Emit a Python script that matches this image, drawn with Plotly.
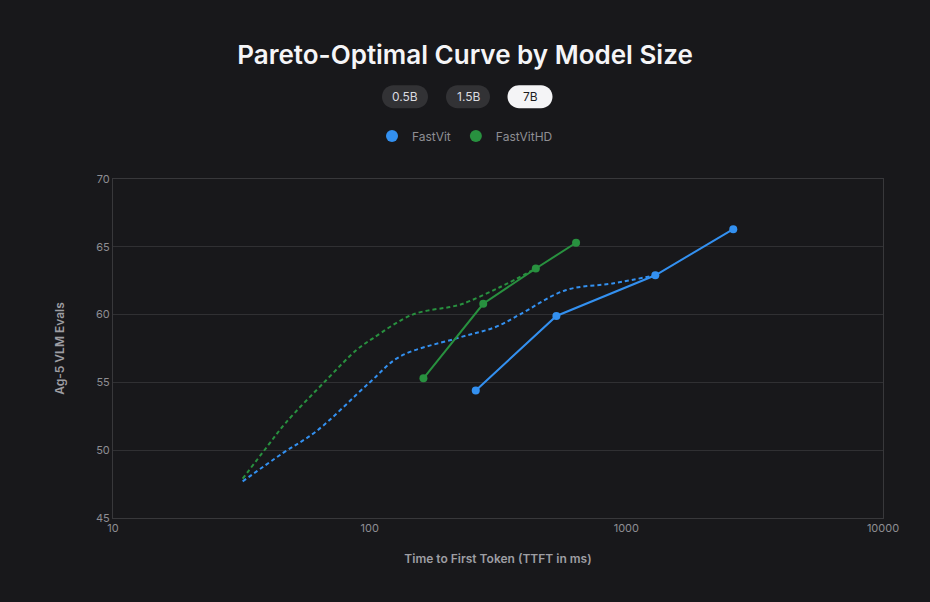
import plotly.graph_objects as go

# solid frontier points (7B)
fastvit_ttft = [259, 534, 1297, 2610]
fastvit_score = [54.4, 59.9, 62.9, 66.3]
fastvithd_ttft = [162, 277, 444, 637]
fastvithd_score = [55.3, 60.8, 63.4, 65.3]

# dashed reference curves
fastvit_ref_ttft = [32, 46, 62, 100, 131, 218, 311, 384, 580, 884, 1297]
fastvit_ref_score = [47.7, 49.8, 51.4, 55.0, 56.9, 58.25, 59.1, 60.0, 61.8, 62.3, 62.9]
fastvithd_ref_ttft = [32, 40, 47, 68, 89, 103, 147, 211, 231, 320, 444]
fastvithd_ref_score = [47.9, 50.3, 52.0, 55.2, 57.4, 58.25, 60.0, 60.6, 60.8, 62.0, 63.4]

sizes = ["0.5B", "1.5B", "7B"]
active_size = "7B"

BLUE = "#3390f0"
GREEN = "#28913f"
BG = "#18181b"
W, H = 930, 602
L, R, T, B = 113, 47, 179, 84


def to_paper(px, py):
    return (px - L) / (W - L - R), (H - B - py) / (H - T - B)


def pill(cx, cy, w, h):
    r = h / 2
    k = 0.5523 * r
    x0, x1 = cx - w / 2, cx + w / 2
    y0, y1 = cy - h / 2, cy + h / 2
    pts = [
        ("M", [(x0 + r, y0)]),
        ("L", [(x1 - r, y0)]),
        ("C", [(x1 - r + k, y0), (x1, cy - k), (x1, cy)]),
        ("C", [(x1, cy + k), (x1 - r + k, y1), (x1 - r, y1)]),
        ("L", [(x0 + r, y1)]),
        ("C", [(x0 + r - k, y1), (x0, cy + k), (x0, cy)]),
        ("C", [(x0, cy - k), (x0 + r - k, y0), (x0 + r, y0)]),
    ]
    s = ""
    for cmd, ps in pts:
        s += cmd + " ".join("%.5f,%.5f" % to_paper(*p) for p in ps) + " "
    return s + "Z"


fig = go.Figure()

fig.add_trace(go.Scatter(x=fastvit_ref_ttft, y=fastvit_ref_score, mode="lines",
                         line=dict(color=BLUE, width=2, dash="4px,3px", shape="spline"),
                         showlegend=False, name="FastVit ref"))
fig.add_trace(go.Scatter(x=fastvithd_ref_ttft, y=fastvithd_ref_score, mode="lines",
                         line=dict(color=GREEN, width=2, dash="4px,3px", shape="spline"),
                         showlegend=False, name="FastVitHD ref"))
fig.add_trace(go.Scatter(x=fastvit_ttft, y=fastvit_score, mode="lines+markers",
                         line=dict(color=BLUE, width=2), marker=dict(size=8, color=BLUE),
                         showlegend=False, name="FastVit"))
fig.add_trace(go.Scatter(x=fastvithd_ttft, y=fastvithd_score, mode="lines+markers",
                         line=dict(color=GREEN, width=2), marker=dict(size=8, color=GREEN),
                         showlegend=False, name="FastVitHD"))

# legend entries
for name, c in [("FastVit", BLUE), ("FastVitHD", GREEN)]:
    fig.add_trace(go.Scatter(x=[None], y=[None], mode="markers", name=name,
                             marker=dict(size=12, color=c)))

# size selector pills
pill_centers = [405, 468, 530]
pill_widths = [46, 44, 45]
for label, cx, w in zip(sizes, pill_centers, pill_widths):
    on = label == active_size
    fig.add_shape(type="path", xref="paper", yref="paper", path=pill(cx, 96.7, w, 23),
                  fillcolor="#f4f4f6" if on else "#323235", line=dict(width=0), layer="above")
    ax, ay = to_paper(cx, 97)
    fig.add_annotation(x=ax, y=ay, xref="paper", yref="paper", text=label, showarrow=False,
                       xanchor="center", yanchor="middle",
                       font=dict(size=12, color="#1c1c1e" if on else "#dcdce0"))

fig.update_layout(
    width=W, height=H,
    margin=dict(l=L, r=R, t=T, b=B),
    paper_bgcolor=BG, plot_bgcolor=BG,
    font=dict(family="Inter", color="#8e8e93", size=11),
    title=dict(text="Pareto-Optimal Curve by Model Size", x=0.5, xanchor="center",
               y=1 - 55 / H, yanchor="middle",
               font=dict(size=26, color="#f5f5f7", weight=600)),
    legend=dict(orientation="h", xref="container", yref="container", x=0.5, xanchor="center",
                y=1 - 136 / H, yanchor="middle", font=dict(size=12, color="#8e8e93"),
                itemsizing="trace", bgcolor="rgba(0,0,0,0)"),
    showlegend=True,
    hovermode="closest",
)
fig.update_xaxes(type="log", range=[1, 4], tickvals=[10, 100, 1000, 10000],
                 ticktext=["10", "100", "1000", "10000"], showgrid=False, zeroline=False,
                 showline=True, linecolor="#38383b", linewidth=1, mirror=True,
                 tickfont=dict(size=11, color="#8e8e93"),
                 title=dict(text="Time to First Token (TTFT in ms)", standoff=20,
                            font=dict(size=12, color="#9e9ea3", weight=600)))
fig.update_yaxes(range=[45, 70], dtick=5, showgrid=True, gridcolor="#303033", zeroline=False,
                 showline=True, linecolor="#38383b", linewidth=1, mirror=True,
                 tickfont=dict(size=11, color="#8e8e93"),
                 title=dict(text="Ag-5 VLM Evals", standoff=28,
                            font=dict(size=12, color="#9e9ea3", weight=600)))

fig.write_html("out.html", config={"displayModeBar": False},
               post_script="document.body.style.margin='0';")
